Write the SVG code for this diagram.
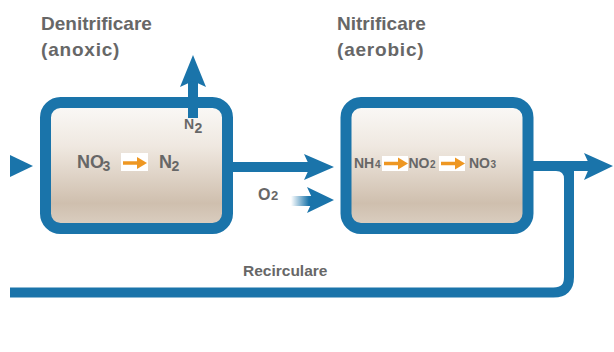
<svg xmlns="http://www.w3.org/2000/svg" width="614" height="352" viewBox="0 0 614 352">
<defs>
  <linearGradient id="tank" x1="0" y1="0" x2="0" y2="1">
    <stop offset="0" stop-color="#fbfaf8"/>
    <stop offset="0.35" stop-color="#efe8e0"/>
    <stop offset="0.8" stop-color="#cfbfae"/>
    <stop offset="1" stop-color="#dcd0c3"/>
  </linearGradient>
  <linearGradient id="fade" gradientUnits="userSpaceOnUse" x1="291" y1="0" x2="309" y2="0">
    <stop offset="0" stop-color="#1a74aa" stop-opacity="0"/>
    <stop offset="1" stop-color="#1a74aa"/>
  </linearGradient>
  <style>
    .tank{fill:url(#tank);stroke:#1a74aa;stroke-width:11}
    .pipe{fill:none;stroke:#1a74aa;stroke-width:10}
    .head{fill:#1a74aa}
    .t{font-family:"Liberation Sans",Arial,sans-serif;font-weight:bold;fill:#676767}
    .title{font-size:19px}
    .box{fill:#ffffff}
    .oa{stroke:#ee9722;stroke-width:3.5;fill:none}
    .oh{fill:#ee9722}
  </style>
</defs>
<rect width="614" height="352" fill="#ffffff"/>

<g id="title-denitrificare">
  <text class="t title" x="41" y="30">Denitrificare</text>
  <text class="t title" x="41" y="56" letter-spacing="0.8">(anoxic)</text>
</g>
<g id="title-nitrificare">
  <text class="t title" x="337" y="30">Nitrificare</text>
  <text class="t title" x="337" y="56" letter-spacing="0.8">(aerobic)</text>
</g>

<g id="connectors">
  <!-- inlet -->
  <polygon class="head" points="10,155 33,166 10,177"/>
  <!-- N2 off-gas up -->
  <line class="pipe" x1="193" y1="118" x2="193" y2="80" stroke-width="9"/>
  <polygon class="head" points="193,55 206,87 193,81 180,87"/>
  <!-- tank1 to tank2 -->
  <line class="pipe" x1="230" y1="167" x2="316" y2="167"/>
  <polygon class="head" points="334,167 304,154 310,167 304,180"/>
  <!-- O2 in -->
  <line x1="291" y1="201" x2="318" y2="201" stroke="url(#fade)" stroke-width="10"/>
  <polygon class="head" points="334,200 307,187 313,200 307,213"/>
  <!-- outlet -->
  <line class="pipe" x1="532" y1="166" x2="596" y2="166"/>
  <polygon class="head" points="613,166 584,153 590,166 584,180"/>
  <!-- recirculation -->
  <path class="pipe" d="M569,166 L569,277 Q569,292.5 553.5,292.5 L10,292.5"/>
  <path class="head" d="M556,171 Q564,171 564,179 L564,171 Z"/>
</g>

<g id="tank-denitrificare">
  <rect class="tank" x="45.5" y="102.5" width="182" height="126" rx="15"/>
  <line class="pipe" x1="193" y1="96" x2="193" y2="118" stroke-width="9"/>
  <text class="t" x="184" y="129" font-size="14">N</text>
  <text class="t" x="194.5" y="133" font-size="14">2</text>
  <text class="t" x="77" y="168" font-size="18">NO</text>
  <text class="t" x="102.5" y="171" font-size="14">3</text>
  <rect class="box" x="121" y="153" width="27" height="18"/>
  <line class="oa" x1="123" y1="163" x2="139" y2="163"/>
  <polygon class="oh" points="147,163 137,157 137,169"/>
  <text class="t" x="159" y="168" font-size="18">N</text>
  <text class="t" x="171.5" y="171" font-size="14">2</text>
</g>

<g id="label-o2">
  <text class="t" x="258" y="200" font-size="16">O</text>
  <text class="t" x="271" y="200" font-size="13">2</text>
</g>

<g id="tank-nitrificare">
  <rect class="tank" x="346" y="102.5" width="182" height="126" rx="15"/>
  <text class="t" x="354" y="168" font-size="14">NH</text>
  <text class="t" x="375" y="168" font-size="10">4</text>
  <rect class="box" x="382" y="156" width="26" height="15"/>
  <line class="oa" x1="384" y1="163.5" x2="399" y2="163.5"/>
  <polygon class="oh" points="408,163.5 398,157.5 398,169.5"/>
  <text class="t" x="408.5" y="168" font-size="14">NO</text>
  <text class="t" x="430" y="168" font-size="10">2</text>
  <rect class="box" x="439" y="156" width="26" height="15"/>
  <line class="oa" x1="441" y1="163.5" x2="456" y2="163.5"/>
  <polygon class="oh" points="465,163.5 455,157.5 455,169.5"/>
  <text class="t" x="469" y="168" font-size="14">NO</text>
  <text class="t" x="490.5" y="168" font-size="10">3</text>
</g>

<g id="label-recirculare">
  <text class="t" x="243" y="276" font-size="15.5">Recirculare</text>
</g>
</svg>
